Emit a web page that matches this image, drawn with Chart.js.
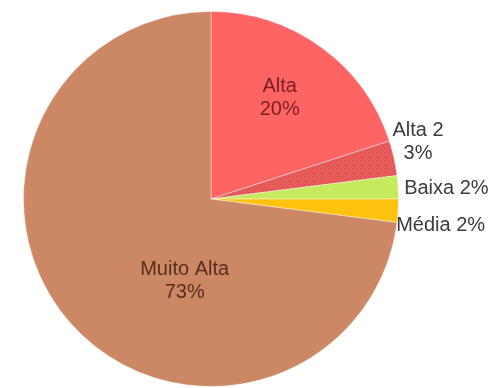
<!DOCTYPE html>
<html>
<head>
<meta charset="utf-8">
<script src="https://cdn.jsdelivr.net/npm/chart.js@4.4.0/dist/chart.umd.min.js"></script>
<style>
  html, body { margin: 0; padding: 0; background: #fff; }
  #wrap { width: 496px; height: 388px; }
</style>
</head>
<body>
<div id="wrap"><canvas id="pie"></canvas></div>
<script>
// dados do gráfico
const categorias = ['Alta', 'Alta 2', 'Baixa', 'Média', 'Muito Alta'];
const valores = [20, 3, 2, 2, 73];
const rotulos = ['Alta\n20%', 'Alta 2\n3%', 'Baixa 2%', 'Média 2%', 'Muito Alta\n73%'];

// padrão pontilhado para "Alta 2"
function hatch(base, dot) {
    const c = document.createElement('canvas');
    c.width = 4; c.height = 4;
    const g = c.getContext('2d');
    g.fillStyle = base; g.fillRect(0, 0, 4, 4);
    g.fillStyle = dot; g.fillRect(0, 0, 1, 1); g.fillRect(2, 2, 1, 1);
    return g.createPattern(c, 'repeat');
}

const cores = ['#FF6464', hatch('#E85C5C', '#D04C4C'), '#C6EA5E', '#FFC20E', '#CC8765'];

// estilo dos rótulos: dentro / fora da fatia
const estiloRotulo = [
    { fora: false, frac: 0.66, dx: -4, dy: -1, cor: '#7A1E1E', align: 'center' },
    { fora: true, dx: 24, dy: -16, cor: '#3C3C3C', align: 'center' },
    { fora: true, dx: 6, dy: 1, cor: '#3C3C3C', align: 'left' },
    { fora: true, dx: -2, dy: 15, cor: '#3C3C3C', align: 'left' },
    { fora: false, frac: 0.5, dx: 44, dy: 20, cor: '#5A2E1E', align: 'center' }
];

const rotuloPlugin = {
    id: 'rotulos',
    afterDatasetsDraw(chart) {
        const ctx = chart.ctx;
        const meta = chart.getDatasetMeta(0);
        ctx.save();
        ctx.font = '20px "Liberation Sans", Arial, sans-serif';
        ctx.textBaseline = 'middle';
        meta.data.forEach((arc, i) => {
            const p = arc.getProps(['x', 'y', 'startAngle', 'endAngle', 'outerRadius'], true);
            const mid = (p.startAngle + p.endAngle) / 2;
            const s = estiloRotulo[i];
            const r = s.fora ? p.outerRadius : p.outerRadius * s.frac;
            const x = p.x + Math.cos(mid) * r + s.dx;
            const y = p.y + Math.sin(mid) * r + s.dy;
            const linhas = rotulos[i].split('\n');
            const lh = 23;
            ctx.fillStyle = s.cor;
            ctx.textAlign = s.align;
            linhas.forEach((t, k) => {
                ctx.fillText(t, x, y + (k - (linhas.length - 1) / 2) * lh);
            });
        });
        ctx.restore();
    }
};

new Chart(document.getElementById('pie'), {
    type: 'pie',
    data: {
        labels: categorias,
        datasets: [{
            data: valores,
            backgroundColor: cores,
            borderColor: 'rgba(255,255,255,0.4)',
            borderWidth: 1
        }]
    },
    options: {
        responsive: true,
        maintainAspectRatio: false,
        animation: false,
        layout: { padding: { left: 22, right: 96, top: 11, bottom: 1 } },
        plugins: { legend: { display: false }, tooltip: { enabled: false } }
    },
    plugins: [rotuloPlugin]
});
</script>
</body>
</html>
